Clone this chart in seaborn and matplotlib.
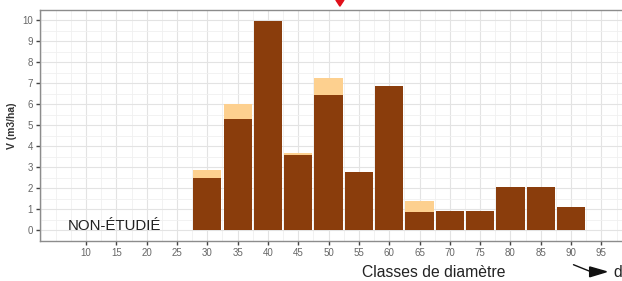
import numpy as np
import pandas as pd
import seaborn as sns
import matplotlib.pyplot as plt
from matplotlib.ticker import MultipleLocator

# === Data ===
diam_classes = [30, 35, 40, 45, 50, 55, 60, 65, 70, 75, 80, 85, 90]
vol_dark = [2.51, 5.28, 9.97, 3.61, 6.47, 2.77, 6.90, 0.89, 0.92, 0.92, 2.04, 2.08, 1.10]
vol_total = [2.86, 6.02, 9.97, 3.70, 7.26, 2.77, 6.90, 1.37, 0.92, 0.92, 2.04, 2.08, 1.10]
x_ticks = [10, 15, 20, 25, 30, 35, 40, 45, 50, 55, 60, 65, 70, 75, 80, 85, 90, 95]

df = pd.DataFrame({"diam": diam_classes, "dark": vol_dark, "total": vol_total})

# === Style ===
sns.set_theme(style="white")
plt.rcParams['font.family'] = ['Liberation Sans', 'DejaVu Sans']

fig = plt.figure(figsize=(6.22, 2.81), dpi=100)
ax = fig.add_axes([0.0643, 0.1434, 0.9357, 0.821])

dark_col = "#8a3d0c"
light_col = "#fdd08f"

# stacked: total first (light), dark part on top of it
sns.barplot(data=df, x="diam", y="total", native_scale=True, width=0.93,
            color=light_col, saturation=1, edgecolor="none", ax=ax)
sns.barplot(data=df, x="diam", y="dark", native_scale=True, width=0.93,
            color=dark_col, saturation=1, edgecolor="none", ax=ax)

ax.set_xlim(2.4, 98.4)
ax.set_ylim(-0.5, 10.5)
ax.set_xticks(x_ticks)
ax.set_yticks(range(0, 11))
ax.xaxis.set_minor_locator(MultipleLocator(2.5))
ax.yaxis.set_minor_locator(MultipleLocator(0.5))

ax.grid(True, which="major", color="#e3e3e3", linewidth=0.8)
ax.grid(True, which="minor", color="#f0f0f0", linewidth=0.6)
ax.set_axisbelow(True)

for side in ["left", "bottom", "top"]:
    ax.spines[side].set_color("#8c8c8c")
    ax.spines[side].set_linewidth(1.0)
ax.spines["right"].set_visible(False)

ax.tick_params(axis="both", which="major", length=3, width=1, color="#444444",
               labelsize=7, labelcolor="#666666", pad=2, direction="out",
               bottom=True, left=True)
ax.tick_params(which="minor", length=0)

ax.set_xlabel("")
ax.set_ylabel("V (m3/ha)", fontsize=7.5, fontweight="bold", color="#333333", labelpad=4)

# annotations
ax.text(0.048, 0.065, "NON-ÉTUDIÉ", transform=ax.transAxes, fontsize=10.8,
        color="#222222", ha="left", va="center")
fig.text(0.698, 0.032, "Classes de diamètre", fontsize=11.3, color="#222222",
         ha="center", va="center")
fig.text(0.993, 0.032, "d", fontsize=11.3, color="#222222", ha="center", va="center")
fig.patches.append(plt.Polygon([[0.948, 0.05], [0.948, 0.015], [0.975, 0.033]],
                               closed=True, transform=fig.transFigure,
                               color="#111111"))
fig.lines.append(plt.Line2D([0.922, 0.95], [0.058, 0.033], transform=fig.transFigure,
                            color="#111111", linewidth=1.0))
fig.patches.append(plt.Polygon([[0.540, 1.0], [0.553, 1.0], [0.5465, 0.978]],
                               closed=True, transform=fig.transFigure,
                               color="#e0101a"))

fig.savefig("out.png", dpi=100)
